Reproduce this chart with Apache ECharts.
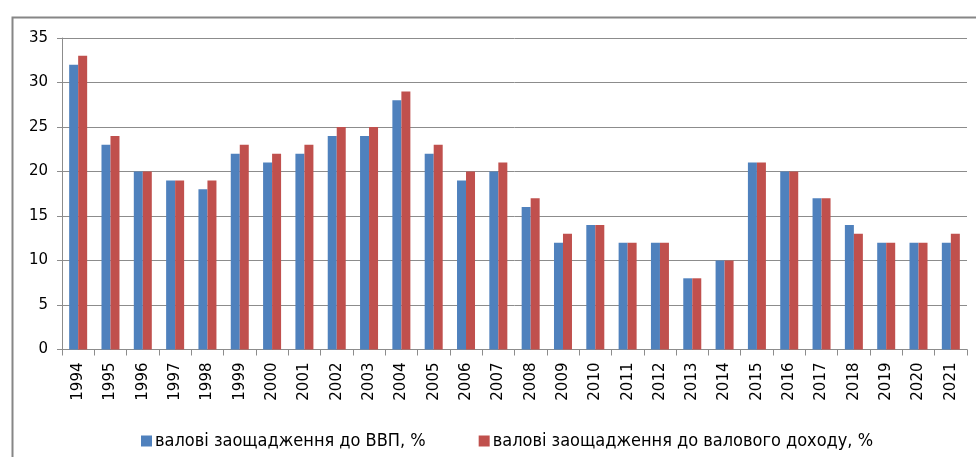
<!DOCTYPE html>
<html>
<head>
<meta charset="utf-8">
<script src="https://cdn.jsdelivr.net/npm/echarts@6/dist/echarts.min.js"></script>
<style>
html,body{margin:0;padding:0;background:#fff;}
#chart{width:976px;height:457px;}
</style>
</head>
<body>
<div id="chart"></div>
<script>
var years = ['1994','1995','1996','1997','1998','1999','2000','2001','2002','2003','2004','2005','2006','2007','2008','2009','2010','2011','2012','2013','2014','2015','2016','2017','2018','2019','2020','2021'];
var savingsToGDP = [32,23,20,19,18,22,21,22,24,24,28,22,19,20,16,12,14,12,12,8,10,21,20,17,14,12,12,12];
var savingsToIncome = [33,24,20,19,19,23,22,23,25,25,29,23,20,21,17,13,14,12,12,8,10,21,20,17,13,12,12,13];
var seriesNames = ['валові заощадження до ВВП, %','валові заощадження до валового доходу, %'];
var yTicks = {min:0, max:35, interval:5};

var chart = echarts.init(document.getElementById('chart'), null, {renderer:'canvas'});
var gridColor = '#8c8c8c';
chart.setOption({
  animation:false,
  backgroundColor:'#ffffff',
  graphic:[{
    type:'rect', left:10, top:15, shape:{width:980, height:460},
    style:{fill:'none', stroke:'#868686', lineWidth:2}, silent:true
  }],
  grid:{left:62, right:9, top:38, bottom:107.5, containLabel:false},
  legend:{
    left:136, top:427, itemWidth:11, itemHeight:11, itemGap:53,
    icon:'rect',
    textStyle:{fontFamily:'DejaVu Sans Condensed', fontSize:18, color:'#000', padding:[0,0,0,-2]},
    data:seriesNames
  },
  xAxis:{
    type:'category', data:years,
    axisLine:{lineStyle:{color:gridColor, width:1}},
    axisTick:{show:true, length:6, lineStyle:{color:gridColor}},
    axisLabel:{rotate:90, margin:13, fontFamily:'DejaVu Sans', fontSize:15, color:'#000', interval:0}
  },
  yAxis:{
    type:'value', min:yTicks.min, max:yTicks.max, interval:yTicks.interval,
    axisLine:{show:true, lineStyle:{color:gridColor, width:1}},
    axisTick:{show:true, length:5, lineStyle:{color:gridColor}},
    axisLabel:{margin:14, fontFamily:'DejaVu Sans', fontSize:15, color:'#000'},
    splitLine:{show:true, lineStyle:{color:gridColor, width:1}}
  },
  series:[
    {name:seriesNames[0], type:'bar', data:savingsToGDP, barWidth:9, barGap:'0%',
     itemStyle:{color:'#4F81BD'}},
    {name:seriesNames[1], type:'bar', data:savingsToIncome, barWidth:9, barGap:'0%',
     itemStyle:{color:'#C0504D'}}
  ]
});
</script>
</body>
</html>
